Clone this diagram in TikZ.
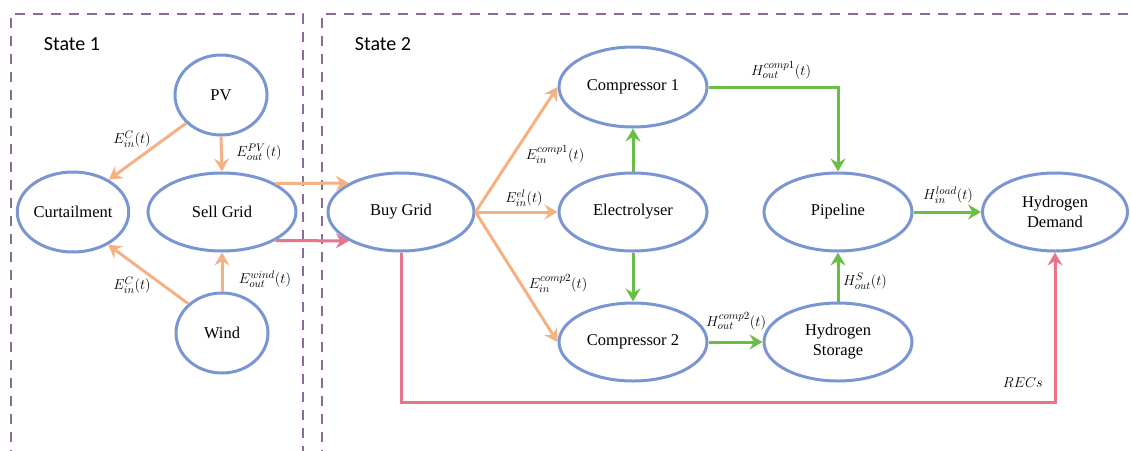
\documentclass[tikz,border=0pt]{standalone}
\usepackage{fontspec}
\setmainfont{Liberation Serif}
\newfontfamily\statefont{Carlito}
\usetikzlibrary{shapes.geometric,arrows.meta,calc}
\definecolor{nodeblue}{RGB}{122,150,210}
\definecolor{eorange}{RGB}{244,177,131}
\definecolor{hgreen}{RGB}{106,190,69}
\definecolor{recpink}{RGB}{232,115,138}
\definecolor{boxpurple}{RGB}{142,107,150}
\begin{document}
\begin{tikzpicture}[x=1pt,y=-1pt,
  ell/.style={ellipse,draw=nodeblue,line width=3pt,inner sep=0pt,align=center,
    font=\rmfamily\fontsize{16.5}{20}\selectfont,minimum width=148pt,minimum height=78pt},
  smallell/.style={ell,minimum width=92pt,minimum height=80pt},
  tipA/.style={-{Stealth[length=13pt,width=15pt,inset=4.5pt]}},
  eflow/.style={tipA,draw=eorange,line width=3pt},
  hflow/.style={tipA,draw=hgreen,line width=3pt},
  rflow/.style={tipA,draw=recpink,line width=3pt},
  lab/.style={inner sep=0pt,font=\fontsize{15}{16}\selectfont},
  statebox/.style={draw=boxpurple,line width=2pt,dash pattern=on 10pt off 8pt},
  statelab/.style={inner sep=0pt,font=\statefont\fontsize{20}{22}\selectfont}
]
\useasboundingbox (0,0) rectangle (1131,450);

% state boxes
\draw[statebox] (11,460) -- (11,14) -- (303,14) -- (303,460);
\draw[statebox] (322,460) -- (322,14) -- (1135,14);
\node[statelab] (s1) at (72,44) {State 1};
\node[statelab] (s2) at (383,44) {State 2};

% nodes
\node[smallell] (pv) at (221,95) {PV};
\node[smallell,minimum width=90pt,minimum height=80pt] (curt) at (73,212) {Curtailment};
\node[ell] (sell) at (222,212) {Sell Grid};
\node[smallell] (wind) at (222,333) {Wind};
\node[ell,minimum width=146pt] (buy) at (401,212) {Buy Grid};
\node[ell,minimum height=80pt] (comp1) at (633,87) {Compressor 1};
\node[ell] (elec) at (633,212) {Electrolyser};
\node[ell] (comp2) at (633,342) {Compressor 2};
\node[ell] (pipe) at (838,212) {Pipeline};
\node[ell] (stor) at (838,342) {Hydrogen\\Storage};
\node[ell,minimum width=145pt] (dem) at (1055,212) {Hydrogen\\Demand};

% state 1 flows
\draw[eflow] (pv.south) -- (sell.north);
\draw[eflow] (pv.219) -- (curt.42);
\draw[eflow] (wind.139) -- (curt.-43);
\draw[eflow] (wind.north) -- (sell.south);
\draw[eflow] (sell.28.5) -- (buy.151.1);
\draw[rflow] (sell.-28.5) -- (buy.-151.1);

% electricity to state 2
\draw[eflow] (buy.east) -- (comp1.west);
\draw[eflow] (buy.east) -- (elec.west);
\draw[eflow] (buy.east) -- (comp2.west);

% hydrogen flows
\draw[hflow] (elec.north) -- (comp1.south);
\draw[hflow] (elec.south) -- (comp2.north);
\draw[hflow] (comp1.east) -| (pipe.north);
\draw[hflow] (comp2.east) -- (stor.west);
\draw[hflow] (stor.north) -- (pipe.south);
\draw[hflow] (pipe.east) -- (dem.west);

% RECs
\coordinate (recb) at (0,402);
\draw[rflow] (buy.south) -- (buy.south |- recb) -| (dem.south);

% labels
\node[lab] (l1) at (132,139) {$E_{in}^{C}(t)$};
\node[lab] (l2) at (259,152) {$E_{out}^{PV}(t)$};
\node[lab] (l3) at (132,285) {$E_{in}^{C}(t)$};
\node[lab] (l4) at (265,279) {$E_{out}^{wind}(t)$};
\node[lab] (l5) at (555,154) {$E_{in}^{comp1}(t)$};
\node[lab] (l6) at (524,198) {$E_{in}^{el}(t)$};
\node[lab] (l7) at (558,283) {$E_{in}^{comp2}(t)$};
\node[lab] (l8) at (781,70) {$H_{out}^{comp1}(t)$};
\node[lab] (l9) at (736,321) {$H_{out}^{comp2}(t)$};
\node[lab] (l10) at (865,281) {$H_{out}^{S}(t)$};
\node[lab] (l11) at (948,195) {$H_{in}^{load}(t)$};
\node[lab,anchor=east] (l12) at (1043,383) {$RECs$};
\end{tikzpicture}
\end{document}
